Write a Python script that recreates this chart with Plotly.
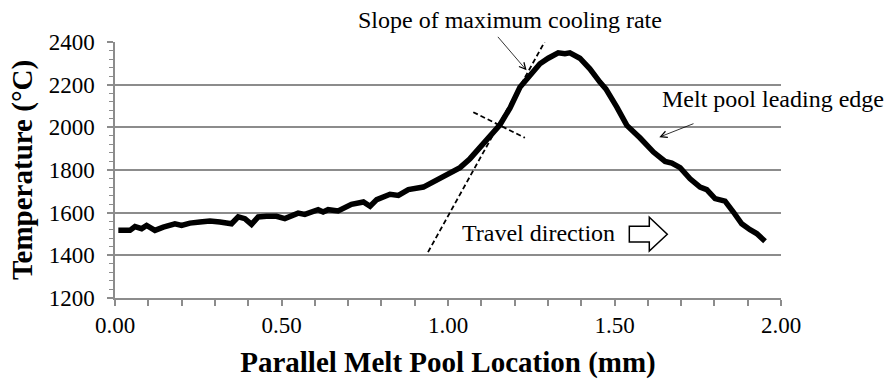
import plotly.graph_objects as go

# ---- data ----
location_mm = [0.01, 0.045, 0.06, 0.08, 0.095, 0.12, 0.145, 0.18, 0.2, 0.225, 0.255, 0.285,
               0.315, 0.35, 0.37, 0.39, 0.41, 0.43, 0.455, 0.485, 0.51, 0.55, 0.57, 0.61,
               0.625, 0.64, 0.67, 0.71, 0.746, 0.766, 0.786, 0.826, 0.851, 0.881, 0.926,
               0.966, 0.996, 1.036, 1.066, 1.096, 1.126, 1.156, 1.186, 1.216, 1.246, 1.276,
               1.301, 1.331, 1.351, 1.366, 1.396, 1.426, 1.456, 1.474, 1.507, 1.537, 1.577,
               1.617, 1.652, 1.672, 1.697, 1.727, 1.757, 1.777, 1.802, 1.832, 1.857, 1.882,
               1.907, 1.927, 1.952]
temperature_c = [1517, 1517, 1535, 1525, 1540, 1517, 1532, 1548, 1540, 1551, 1556, 1561,
                 1556, 1548, 1580, 1572, 1545, 1580, 1583, 1583, 1572, 1598, 1592, 1614,
                 1603, 1614, 1608, 1639, 1650, 1630, 1661, 1686, 1681, 1708, 1720,
                 1755, 1775, 1811, 1853, 1904, 1954, 2012, 2090, 2188, 2243, 2298,
                 2324, 2349, 2345, 2349, 2324, 2274, 2212, 2180, 2095, 2009, 1950,
                 1884, 1840, 1832, 1811, 1759, 1720, 1708, 1666, 1654, 1603, 1548,
                 1520, 1502, 1466]

tangent_x = [0.94, 1.29]
tangent_y = [1415, 2400]
normal_x = [1.076, 1.231]
normal_y = [2071, 1951]

x_tick_vals = [0.0, 0.5, 1.0, 1.5, 2.0]
x_tick_text = ["0.00", "0.50", "1.00", "1.50", "2.00"]
y_tick_vals = [1200, 1400, 1600, 1800, 2000, 2200, 2400]

FONT = "Liberation Serif, Times New Roman, serif"
GRID = "#8c8c8c"

fig = go.Figure()
fig.add_trace(go.Scatter(x=location_mm, y=temperature_c, mode="lines",
                         line=dict(color="black", width=5.5), hoverinfo="skip"))
fig.add_trace(go.Scatter(x=tangent_x, y=tangent_y, mode="lines",
                         line=dict(color="black", width=1.8, dash="5px,3px"), hoverinfo="skip"))
fig.add_trace(go.Scatter(x=normal_x, y=normal_y, mode="lines",
                         line=dict(color="black", width=1.8, dash="5px,3px"), hoverinfo="skip"))

# block arrow (travel direction)
ax0, ax1, ax2 = 1.5445, 1.6045, 1.6585
ys_top, ys_bot, yh_top, yh_bot, ymid = 1536, 1462, 1579, 1420, 1499
fig.add_shape(type="path", xref="x", yref="y",
              path=(f"M{ax0},{ys_bot} L{ax1},{ys_bot} L{ax1},{yh_bot} L{ax2},{ymid} "
                    f"L{ax1},{yh_top} L{ax1},{ys_top} L{ax0},{ys_top} Z"),
              line=dict(color="black", width=1.5), fillcolor="white")

ann_font = dict(family=FONT, size=24, color="black")
fig.add_annotation(x=0.593, y=1.086, xref="paper", yref="paper", xanchor="center", yanchor="middle",
                   text="Slope of maximum cooling rate", showarrow=False, font=ann_font)
fig.add_annotation(x=1.976, y=2135, xref="x", yref="y", xanchor="center", yanchor="middle",
                   text="Melt pool leading edge", showarrow=False, font=ann_font)
fig.add_annotation(x=1.273, y=1503, xref="x", yref="y", xanchor="center", yanchor="middle",
                   text="Travel direction", showarrow=False, font=ann_font)
# thin arrows
fig.add_annotation(x=1.236, y=2267, ax=1.146, ay=2431, xref="x", yref="y", axref="x", ayref="y",
                   text="", showarrow=True, arrowhead=5, arrowsize=1.6, arrowwidth=0.8,
                   arrowcolor="black", standoff=0)
fig.add_annotation(x=1.6345, y=1954, ax=1.7417, ay=2020, xref="x", yref="y", axref="x", ayref="y",
                   text="", showarrow=True, arrowhead=5, arrowsize=1.6, arrowwidth=0.8,
                   arrowcolor="black", standoff=0)

fig.update_layout(
    width=887, height=379,
    margin=dict(l=115, r=106, t=42, b=81, autoexpand=False),
    paper_bgcolor="white", plot_bgcolor="white",
    showlegend=False,
    font=dict(family=FONT, size=23, color="black"),
)
fig.update_xaxes(
    range=[0, 2], tickvals=x_tick_vals, ticktext=x_tick_text,
    showgrid=False, zeroline=False,
    showline=True, linecolor=GRID, linewidth=1.5,
    ticks="outside", ticklen=6, tickcolor=GRID, tickwidth=1.5,
    minor=dict(dtick=0.1, ticks="outside", ticklen=6, tickcolor=GRID, tickwidth=1.5, showgrid=False),
    tickfont=dict(family=FONT, size=23, color="black"),
    title=dict(text="Parallel Melt Pool Location (mm)", standoff=18,
               font=dict(family=FONT, size=29, color="black", weight="bold")),
)
fig.update_yaxes(
    range=[1200, 2400], tickvals=y_tick_vals,
    showgrid=True, gridcolor=GRID, gridwidth=1.5, zeroline=False,
    showline=True, linecolor=GRID, linewidth=1.5,
    ticks="outside", ticklen=6, tickcolor=GRID, tickwidth=1.5,
    minor=dict(dtick=40, ticks="outside", ticklen=4, tickcolor=GRID, tickwidth=1.2, showgrid=False),
    tickfont=dict(family=FONT, size=23, color="black"),
    ticklabelstandoff=8,
    title=dict(text="Temperature (°C)", standoff=8,
               font=dict(family=FONT, size=29, color="black", weight="bold")),
)

fig.write_html("out.html")
